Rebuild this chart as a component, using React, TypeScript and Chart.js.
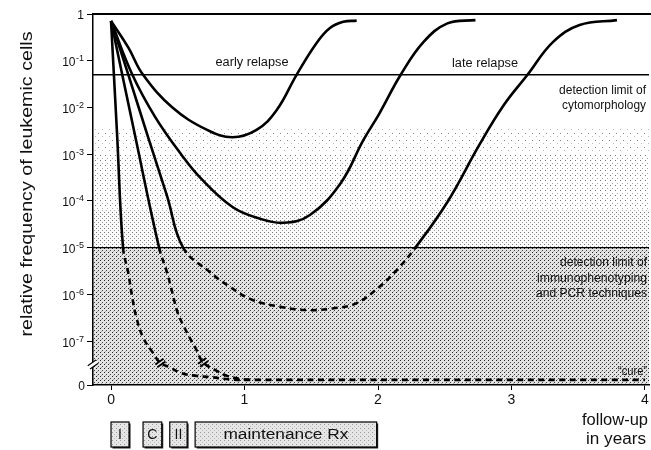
import React, { useEffect, useRef } from 'react';
import { Chart, registerables } from 'chart.js';

Chart.register(...registerables);

const FONT = '"Liberation Sans", Arial, Helvetica, sans-serif';

// ---- axes ----
const YEAR_TICKS = [0, 1, 2, 3, 4];
const DECADE_EXPONENTS = [0, -1, -2, -3, -4, -5, -6, -7];
const X_MIN = -0.135;
const X_MAX = 4.03;
const ZERO_TICK = -7.94; // position of the "0" label below the axis break
const ZERO_POS = -7.83; // where a frequency of 0 ("cure") is drawn

// ---- detection limits ----
const CYTO_LIMIT = 0.05;
const PCR_LIMIT = 1e-5;

// ---- curves (years, relative frequency) ----
const EARLY_X = [0, 0.13, 0.24, 0.46, 0.72, 0.91, 1.09, 1.24, 1.39, 1.54, 1.64, 1.74, 1.84];
const EARLY_Y = [0.71, 0.19, 0.05, 1.0e-2, 3.3e-3, 2.3e-3, 3.3e-3, 8.7e-3, 0.05, 0.24, 0.5, 0.68, 0.72];

const LATE1_X = [0, 0.16, 0.33, 0.53, 0.67, 0.91, 1.1, 1.29, 1.49, 1.72, 1.89, 2.01, 2.17, 2.34, 2.52, 2.73];
const LATE1_Y = [0.71, 0.05, 6.3e-3, 9.5e-4, 3.1e-4, 7.4e-5, 4.3e-5, 3.4e-5, 5.0e-5, 2.4e-4, 2.0e-3, 7.4e-3, 0.05, 0.25, 0.63, 0.74];

const LATE2_X = [0, 0.13, 0.28, 0.42, 0.54, 0.74, 0.89, 1.06, 1.27, 1.47, 1.66, 1.84, 2.01, 2.14, 2.28, 2.52, 2.76, 2.94, 3.12, 3.31, 3.51, 3.79];
const LATE2_Y = [0.71, 0.05, 2.2e-3, 1.26e-4, 1e-5, 3.0e-6, 1.45e-6, 7.6e-7, 5.4e-7, 4.6e-7, 5.0e-7, 6.5e-7, 1.45e-6, 3.3e-6, 1e-5, 9.5e-5, 1.6e-3, 1.1e-2, 0.05, 0.25, 0.58, 0.74];

const CURE1_X = [0, 0.18, 0.36, 0.42, 0.46, 0.5, 0.57, 0.64, 0.69, 0.78, 0.87, 0.97, 1.06];
const CURE1_Y = [0.71, 2.5e-3, 1e-5, 2.9e-6, 1.07e-6, 4.0e-7, 1.5e-7, 6.5e-8, 3.5e-8, 2.4e-8, 1.8e-8, 1.55e-8, 0];

const CURE2_X = [0, 0.045, 0.09, 0.13, 0.16, 0.19, 0.24, 0.31, 0.37, 0.44, 0.53, 0.64, 0.74, 0.91, 1.1, 4.0];
const CURE2_Y = [0.71, 2.8e-3, 1e-5, 2.8e-6, 8.3e-7, 3.2e-7, 1.2e-7, 5.8e-8, 3.4e-8, 2.75e-8, 2.05e-8, 1.8e-8, 1.7e-8, 1.5e-8, 0, 0];

// axis-break marks on the two "cure" curves (years, frequency)
const BREAK_X = [0.37, 0.69];
const BREAK_Y = [3.4e-8, 3.5e-8];

// ---- treatment phases (years) ----
const PHASE_LABELS = ['I', 'C', 'II', 'maintenance Rx'];
const PHASE_START = [0, 0.24, 0.44, 0.63];
const PHASE_END = [0.135, 0.38, 0.57, 1.99];

const toPos = (v: number) => (v <= 0 ? ZERO_POS : Math.log10(v));
const curve = (xs: number[], ys: number[]) => xs.map((x, i) => ({ x, y: toPos(ys[i]) }));

function makePattern(size: number, bg: string, dots: [number, number, string][]) {
  const c = document.createElement('canvas');
  c.width = size;
  c.height = size;
  const g = c.getContext('2d')!;
  g.fillStyle = bg;
  g.fillRect(0, 0, size, size);
  dots.forEach(([x, y, col]) => {
    g.fillStyle = col;
    g.fillRect(x, y, 1, 1);
  });
  return g.createPattern(c, 'repeat')!;
}

function txt(ctx: CanvasRenderingContext2D, s: string, x: number, y: number, size: number, align: CanvasTextAlign, targetW?: number) {
  ctx.save();
  ctx.font = `${size}px ${FONT}`;
  ctx.textBaseline = 'middle';
  ctx.fillStyle = '#111';
  const w = ctx.measureText(s).width;
  const k = targetW ? targetW / w : 1;
  ctx.translate(x, y);
  ctx.scale(k, 1);
  ctx.textAlign = align;
  ctx.fillText(s, 0, 0);
  ctx.restore();
}

function slash(ctx: CanvasRenderingContext2D, cx: number, cy: number, len: number, gap: number, lw: number, clear: boolean) {
  const a = (-35 * Math.PI) / 180;
  const dx = Math.cos(a) * len / 2, dy = Math.sin(a) * len / 2;
  const px = -Math.sin(a) * gap / 2, py = Math.cos(a) * gap / 2;
  ctx.save();
  if (clear) {
    ctx.fillStyle = '#fff';
    ctx.beginPath();
    ctx.moveTo(cx - dx - px, cy - dy - py);
    ctx.lineTo(cx + dx - px, cy + dy - py);
    ctx.lineTo(cx + dx + px, cy + dy + py);
    ctx.lineTo(cx - dx + px, cy - dy + py);
    ctx.closePath();
    ctx.fill();
  }
  ctx.strokeStyle = '#000';
  ctx.lineWidth = lw;
  [-1, 1].forEach((s) => {
    ctx.beginPath();
    ctx.moveTo(cx - dx + s * px, cy - dy + s * py);
    ctx.lineTo(cx + dx + s * px, cy + dy + s * py);
    ctx.stroke();
  });
  ctx.restore();
}

const decor = {
  id: 'decor',
  beforeDraw(chart: any) {
    const { ctx, chartArea: a, scales } = chart;
    const y = scales.y;
    const sparse = makePattern(7, '#fff', [[0, 0, '#888'], [4, 3, '#bbb']]);
    const medium = makePattern(5, '#fff', [[0, 0, '#777'], [2, 3, '#aaa']]);
    const dense = makePattern(4, '#fafafa', [[0, 0, '#777'], [2, 2, '#999']]);
    const dark = makePattern(4, '#e4e4e4', [[0, 0, '#222'], [2, 2, '#444'], [1, 3, '#aaa']]);
    const band = (from: number, to: number | null, pat: CanvasPattern) => {
      const y0 = y.getPixelForValue(from);
      const y1 = to === null ? a.bottom : y.getPixelForValue(to);
      ctx.fillStyle = pat;
      ctx.fillRect(a.left, y0, a.right - a.left, y1 - y0);
    };
    ctx.save();
    band(-2.45, -3.0, sparse);
    band(-3.0, -4.2, medium);
    band(-4.2, -5, dense);
    band(-5, null, dark);
    ctx.restore();
  },
  afterDatasetsDraw(chart: any) {
    const { ctx, chartArea: a, scales } = chart;
    const x = scales.x, y = scales.y;

    // top frame line
    ctx.save();
    ctx.strokeStyle = '#000';
    ctx.lineWidth = 2;
    ctx.beginPath();
    ctx.moveTo(a.left, a.top);
    ctx.lineTo(651, a.top);
    ctx.stroke();
    ctx.restore();

    // y tick labels with superscripts
    ctx.save();
    ctx.fillStyle = '#111';
    ctx.textBaseline = 'alphabetic';
    ctx.textAlign = 'right';
    const right = 84;
    DECADE_EXPONENTS.forEach((e) => {
      const py = y.getPixelForValue(e);
      if (e === 0) {
        ctx.font = `12px ${FONT}`;
        ctx.fillText('1', right, py + 5);
      } else {
        const sup = '-' + String(-e);
        ctx.font = `9px ${FONT}`;
        const sw = ctx.measureText(sup).width;
        ctx.fillText(sup, right, py + 0.5);
        ctx.font = `12px ${FONT}`;
        ctx.fillText('10', right - sw - 0.5, py + 5.5);
      }
    });
    ctx.font = `12px ${FONT}`;
    ctx.fillText('0', right + 1, y.getPixelForValue(ZERO_TICK) + 5);
    ctx.restore();

    // y axis break
    slash(ctx, a.left, y.getPixelForValue(-7.5), 10, 4, 1.2, true);
    // curve breaks
    BREAK_X.forEach((bx, i) => {
      slash(ctx, x.getPixelForValue(bx), y.getPixelForValue(toPos(BREAK_Y[i])), 10, 3.5, 1.8, false);
    });

    // annotations
    txt(ctx, 'early relapse', 252, 63, 12, 'center', 73);
    txt(ctx, 'late relapse', 485, 64, 12, 'center', 66);
    txt(ctx, 'detection limit of', 646, 91, 12, 'right', 87);
    txt(ctx, 'cytomorphology', 646, 106, 12, 'right', 84);
    txt(ctx, 'detection limit of', 647, 263, 12, 'right', 87);
    txt(ctx, 'immunophenotyping', 647, 279, 12, 'right', 110);
    txt(ctx, 'and PCR techniques', 647, 294, 12, 'right', 111);
    txt(ctx, '\u201Ccure\u201D', 647, 372, 12, 'right', 29);

    // axis titles
    txt(ctx, 'follow-up', 615, 421, 16, 'center', 66);
    txt(ctx, 'in years', 616, 440, 16, 'center', 60);
    ctx.save();
    ctx.translate(28, 184);
    ctx.rotate(-Math.PI / 2);
    txt(ctx, 'relative frequency of leukemic cells', 0, 0, 16, 'center', 305);
    ctx.restore();

    // treatment phase boxes
    const boxPat = makePattern(4, '#e6e6e6', [[0, 0, '#999'], [2, 2, '#bbb']]);
    const top = 422, h = 25;
    PHASE_LABELS.forEach((lab, i) => {
      const x0 = x.getPixelForValue(PHASE_START[i]);
      const x1 = x.getPixelForValue(PHASE_END[i]);
      ctx.save();
      ctx.fillStyle = '#222';
      ctx.fillRect(x0 + 1.5, top + 1.5, x1 - x0, h);
      ctx.fillStyle = boxPat;
      ctx.fillRect(x0, top, x1 - x0, h);
      ctx.strokeStyle = '#000';
      ctx.lineWidth = 1.2;
      ctx.strokeRect(x0, top, x1 - x0, h);
      ctx.restore();
      txt(ctx, lab, (x0 + x1) / 2, top + h / 2 + 0.5, 14, 'center', lab.length > 3 ? 125 : undefined);
    });
  },
};

export default function App() {
  const ref = useRef<HTMLCanvasElement>(null);
  useEffect(() => {
    const canvas = ref.current!;
    const dashed = (ctx: any) =>
      ctx.p0.parsed.y <= -4.99 && ctx.p1.parsed.y <= -4.99 ? [6, 4.5] : undefined;
    const curveStyle = {
      borderColor: '#000',
      borderWidth: 2.6,
      pointRadius: 0,
      fill: false,
      tension: 0.4,
      borderCapStyle: 'butt' as const,
      borderJoinStyle: 'round' as const,
      segment: { borderDash: dashed },
    };
    const limit = (v: number) => ({
      data: [{ x: X_MIN, y: toPos(v) }, { x: X_MAX, y: toPos(v) }],
      borderColor: '#000',
      borderWidth: 1.4,
      pointRadius: 0,
      fill: false,
      tension: 0,
    });
    const chart = new Chart(canvas, {
      type: 'line',
      data: {
        datasets: [
          limit(CYTO_LIMIT),
          limit(PCR_LIMIT),
          { data: curve(EARLY_X, EARLY_Y), ...curveStyle },
          { data: curve(LATE1_X, LATE1_Y), ...curveStyle },
          { data: curve(LATE2_X, LATE2_Y), ...curveStyle },
          { data: curve(CURE1_X, CURE1_Y), ...curveStyle },
          { data: curve(CURE2_X, CURE2_Y), ...curveStyle },
        ] as any,
      },
      options: {
        responsive: false,
        animation: false,
        devicePixelRatio: 1,
        layout: { padding: { left: 0, top: 14, right: 2, bottom: 0 } },
        plugins: { legend: { display: false }, tooltip: { enabled: false }, title: { display: false } },
        scales: {
          x: {
            type: 'linear',
            min: X_MIN,
            max: X_MAX,
            afterBuildTicks: (s: any) => {
              s.ticks = YEAR_TICKS.map((v) => ({ value: v }));
            },
            afterFit: (s: any) => {
              s.height = 65;
            },
            ticks: { color: '#111', font: { size: 14, family: FONT }, padding: 2, maxRotation: 0, autoSkip: false },
            grid: { drawOnChartArea: false, tickLength: 5, tickColor: '#000', color: '#000' },
            border: { color: '#000', width: 1.5 },
          },
          y: {
            type: 'linear',
            min: ZERO_TICK,
            max: 0,
            afterBuildTicks: (s: any) => {
              s.ticks = [...DECADE_EXPONENTS, ZERO_TICK].map((v) => ({ value: v }));
            },
            afterFit: (s: any) => {
              s.width = 93;
            },
            ticks: { display: false },
            grid: { drawOnChartArea: false, tickLength: 6, tickColor: '#000', color: '#000' },
            border: { color: '#000', width: 1.5 },
          },
        },
      } as any,
      plugins: [decor],
    });
    return () => chart.destroy();
  }, []);
  return (
    <div style={{ position: 'absolute', left: 0, top: 0, width: 651, height: 450, background: '#fff' }}>
      <canvas ref={ref} width={651} height={450} style={{ display: 'block', width: 651, height: 450 }} />
    </div>
  );
}
